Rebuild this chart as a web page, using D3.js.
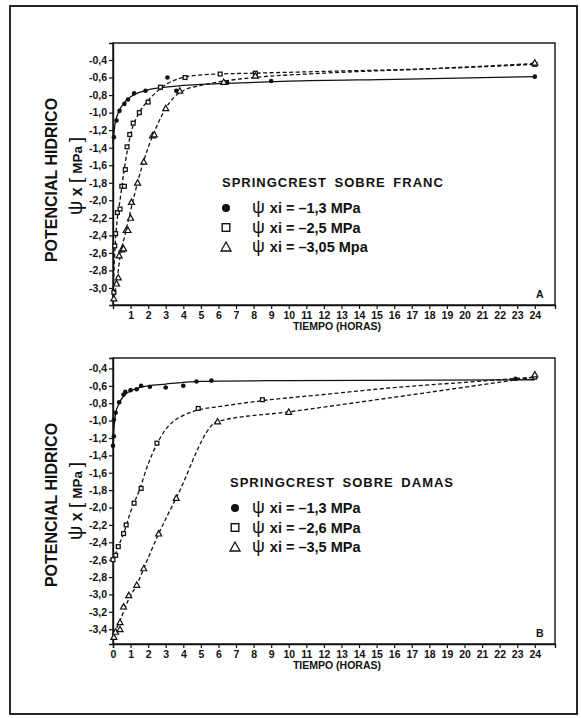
<!DOCTYPE html>
<html>
<head>
<meta charset="utf-8">
<script src="https://cdn.jsdelivr.net/npm/d3@7"></script>
<style>
  body { margin: 0; background: #fff; }
  text { font-family: "Liberation Sans", Arial, sans-serif; fill: #111; }
</style>
</head>
<body>
<svg id="chart" width="581" height="718"></svg>
<script>
// hours on the x axis
const hourTicksA = d3.range(1, 25);
const hourTicksB = d3.range(0, 25);
const yTicksA = d3.range(-3.0, -0.39, 0.2);
const yTicksB = d3.range(-3.4, -0.39, 0.2);

// panel A: Springcrest sobre Franc  (t = horas, v = MPa)
const pointsA1 = [[0.05,-1.28],[0.2,-1.09],[0.37,-0.98],[0.65,-0.9],[0.85,-0.85],[1.2,-0.78],[1.85,-0.75],[2.7,-0.72],[3.1,-0.6],[3.6,-0.75],[6.5,-0.66],[9.0,-0.64],[24,-0.59]];
const pointsA2 = [[0.05,-3.05],[0.1,-2.52],[0.15,-2.38],[0.25,-2.14],[0.4,-2.1],[0.5,-1.84],[0.65,-1.84],[0.7,-1.65],[0.8,-1.39],[0.95,-1.25],[1.15,-1.12],[1.5,-1.0],[2.0,-0.88],[2.7,-0.71],[4.1,-0.6],[6.1,-0.56],[8.1,-0.55],[24,-0.45]];
const pointsA3 = [[0.05,-3.12],[0.2,-2.95],[0.3,-2.88],[0.35,-2.63],[0.5,-2.56],[0.6,-2.55],[0.75,-2.34],[0.85,-2.34],[1.0,-2.2],[1.05,-2.02],[1.4,-1.8],[1.75,-1.56],[2.25,-1.26],[2.35,-1.25],[3.0,-0.95],[3.8,-0.75],[6.3,-0.65],[8.1,-0.58],[24,-0.43]];
const curveA1 = [[0,-1.35],[0.1,-1.15],[0.3,-1.0],[0.6,-0.9],[1,-0.82],[1.5,-0.77],[2,-0.74],[3,-0.71],[4,-0.69],[6,-0.67],[10,-0.64],[16,-0.62],[24,-0.59]];
const curveA2 = [[0,-3.1],[0.1,-2.6],[0.2,-2.3],[0.4,-2.0],[0.6,-1.7],[0.8,-1.45],[1,-1.25],[1.5,-1.0],[2,-0.86],[2.5,-0.76],[3,-0.68],[4,-0.6],[5,-0.57],[6,-0.56],[8,-0.55],[12,-0.53],[18,-0.5],[24,-0.45]];
const curveA3 = [[0,-3.12],[0.2,-2.95],[0.4,-2.65],[0.7,-2.38],[1,-2.12],[1.5,-1.72],[2,-1.4],[2.5,-1.15],[3,-0.95],[3.5,-0.82],[4,-0.75],[5,-0.69],[6,-0.65],[8,-0.6],[12,-0.55],[18,-0.5],[24,-0.44]];

// panel B: Springcrest sobre Damas
const pointsB1 = [[0,-1.29],[0.05,-1.18],[0.05,-0.99],[0.15,-0.91],[0.35,-0.79],[0.6,-0.7],[0.7,-0.67],[1.0,-0.65],[1.35,-0.64],[1.6,-0.6],[2.1,-0.61],[3.0,-0.62],[4.0,-0.6],[4.75,-0.55],[5.6,-0.54],[22.9,-0.52]];
const pointsB2 = [[0,-2.6],[0.15,-2.55],[0.3,-2.45],[0.6,-2.3],[0.75,-2.2],[1.2,-1.95],[1.6,-1.78],[2.5,-1.26],[4.85,-0.86],[8.5,-0.76],[24,-0.5]];
const pointsB3 = [[0.05,-3.49],[0.15,-3.43],[0.4,-3.4],[0.4,-3.32],[0.6,-3.14],[0.9,-3.01],[1.35,-2.89],[1.75,-2.7],[2.6,-2.3],[3.6,-1.89],[5.95,-1.01],[10.0,-0.9],[24,-0.47]];
const curveB1 = [[0,-1.3],[0.05,-1.1],[0.15,-0.92],[0.35,-0.8],[0.6,-0.72],[1,-0.66],[1.5,-0.62],[2,-0.6],[3,-0.58],[4,-0.56],[5,-0.55],[6,-0.545],[10,-0.54],[24,-0.53]];
const curveB2 = [[0,-2.62],[0.3,-2.45],[0.6,-2.3],[1,-2.05],[1.5,-1.8],[2,-1.5],[2.5,-1.27],[3,-1.1],[3.5,-1.0],[4,-0.94],[5,-0.87],[6,-0.84],[8.5,-0.77],[12,-0.7],[16,-0.62],[20,-0.56],[24,-0.5]];
const curveB3 = [[0.05,-3.45],[0.4,-3.3],[0.9,-3.05],[1.35,-2.89],[1.75,-2.7],[2.6,-2.3],[3.6,-1.89],[5.95,-1.01],[10,-0.9],[24,-0.5]];

const legendA = ["xi = \u20131,3 MPa", "xi = \u20132,5 MPa", "xi = \u20133,05 Mpa"];
const legendB = ["xi = \u20131,3 MPa", "xi = \u20132,6 MPa", "xi = \u20133,5 MPa"];

const svg = d3.select("#chart");
svg.append("rect").attr("width", 581).attr("height", 718).attr("fill", "#fff");
// outer frame
svg.append("rect")
  .attr("x", 10).attr("y", 6).attr("width", 567).attr("height", 708)
  .attr("fill", "none").attr("stroke", "#111").attr("stroke-width", 1.8);

const fmt = d => d.toFixed(1).replace(".", ",");

const panels = [
  { top: 43, bottom: 305, yDom: [-3.194, -0.206], yTicks: yTicksA, xTicks: hourTicksA, cy: 180,
    series: [[pointsA1, curveA1, "dot", false], [pointsA2, curveA2, "square", true], [pointsA3, curveA3, "tri", true]],
    title: "SPRINGCREST SOBRE FRANC", legend: legendA, tx: 222, lx: 226, ly: 187, tag: "A" },
  { top: 358, bottom: 644, yDom: [-3.57, -0.28], yTicks: yTicksB, xTicks: hourTicksB, cy: 505,
    series: [[pointsB1, curveB1, "dot", false], [pointsB2, curveB2, "square", true], [pointsB3, curveB3, "tri", true]],
    title: "SPRINGCREST SOBRE DAMAS", legend: legendB, tx: 230, lx: 235, ly: 487, tag: "B" }
];

function marker(g, type, x, y, big) {
  if (type === "dot") {
    g.append("circle").attr("cx", x).attr("cy", y).attr("r", big ? 4 : 2.3).attr("fill", "#111");
  } else if (type === "square") {
    const h = big ? 3.8 : 1.9;
    g.append("rect").attr("x", x - h).attr("y", y - h).attr("width", 2 * h).attr("height", 2 * h)
      .attr("fill", "#fff").attr("stroke", "#111").attr("stroke-width", big ? 1.4 : 1.3);
  } else {
    const h = big ? 5 : 3;
    g.append("path").attr("d", `M${x},${y - h}L${x + h},${y + h * 0.8}L${x - h},${y + h * 0.8}Z`)
      .attr("fill", "#fff").attr("stroke", "#111").attr("stroke-width", big ? 1.3 : 1.2);
  }
}

panels.forEach(p => {
  const x = d3.scaleLinear().domain([0, 25.15]).range([113, 555]);
  const y = d3.scaleLinear().domain(p.yDom).range([p.bottom, p.top]);
  const g = svg.append("g");

  // frame of plot
  g.append("rect").attr("x", 113).attr("y", p.top).attr("width", 442).attr("height", p.bottom - p.top)
    .attr("fill", "none").attr("stroke", "#111").attr("stroke-width", 1.4);

  const yAxis = g.append("g").attr("transform", "translate(113,0)")
    .call(d3.axisLeft(y).tickValues(p.yTicks).tickFormat(fmt).tickSize(4).tickPadding(2));
  const xAxis = g.append("g").attr("transform", `translate(0,${p.bottom})`)
    .call(d3.axisBottom(x).tickValues(p.xTicks).tickFormat(d3.format("d")).tickSize(4).tickPadding(3));
  [yAxis, xAxis].forEach(a => {
    a.select(".domain").attr("stroke", "#111").attr("stroke-width", 1.4);
    a.selectAll(".tick line").attr("stroke", "#111").attr("stroke-width", 1.2);
    a.selectAll("text").attr("font-size", 10.5).attr("font-weight", "bold").attr("fill", "#111")
      .attr("font-family", "'Liberation Sans', Arial, sans-serif");
  });

  g.append("text").attr("x", 337).attr("y", p.bottom + 25).attr("text-anchor", "middle")
    .attr("font-size", 10.5).attr("font-weight", "bold").text("TIEMPO (HORAS)");

  g.append("text").attr("transform", `translate(57,${p.cy}) rotate(-90)`).attr("text-anchor", "middle")
    .attr("font-size", 16).attr("font-weight", "bold").text("POTENCIAL HIDRICO");
  const t2 = g.append("text").attr("transform", `translate(82,${p.cy - 4}) rotate(-90)`).attr("text-anchor", "middle")
    .attr("font-weight", "bold");
  t2.append("tspan").attr("font-size", 20).attr("font-weight", "normal").text("\u03C8");
  t2.append("tspan").attr("font-size", 16).text(" x ");
  t2.append("tspan").attr("font-size", 19).attr("font-weight", "normal").text("[");
  t2.append("tspan").attr("font-size", 13.5).text(" MPa ");
  t2.append("tspan").attr("font-size", 19).attr("font-weight", "normal").text("]");

  const line = d3.line().x(d => x(d[0])).y(d => y(d[1])).curve(d3.curveMonotoneX);
  p.series.forEach(([pts, crv, type, dashed]) => {
    g.append("path").datum(crv).attr("d", line).attr("fill", "none")
      .attr("stroke", "#111").attr("stroke-width", 1.3)
      .attr("stroke-dasharray", dashed ? "4,2.5" : null);
    pts.forEach(d => marker(g, type, x(d[0]), y(d[1]), false));
  });

  // legend
  g.append("text").attr("x", p.tx).attr("y", p.ly).attr("font-size", 13).attr("font-weight", "bold")
    .attr("letter-spacing", 1).attr("word-spacing", 3).text(p.title);
  p.legend.forEach((lbl, i) => {
    const ry = p.ly + 21 + i * 19.5;
    marker(g, ["dot", "square", "tri"][i], p.lx, ry, true);
    const t = g.append("text").attr("x", 252).attr("y", ry + 5).attr("font-weight", "bold");
    t.append("tspan").attr("font-size", 18).attr("font-weight", "normal").text("\u03C8 ");
    t.append("tspan").attr("font-size", 14.5).text(lbl);
  });

  g.append("text").attr("x", 536).attr("y", p.bottom - 7).attr("font-size", 10.5).attr("font-weight", "bold").text(p.tag);
});
</script>
</body>
</html>
